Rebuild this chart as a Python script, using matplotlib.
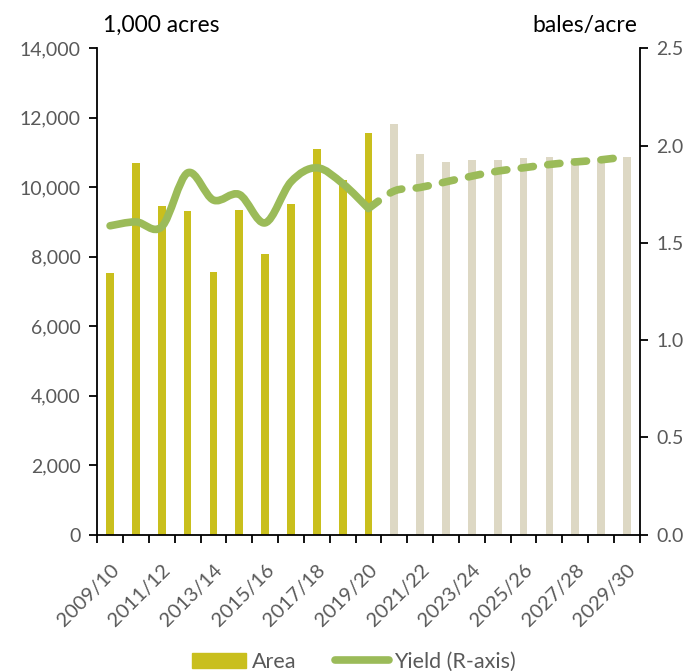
import numpy as np
import matplotlib
matplotlib.use("Agg")
import matplotlib.pyplot as plt
from matplotlib.path import Path
from matplotlib.patches import PathPatch, Patch
from matplotlib.lines import Line2D

plt.rcParams['font.family'] = ['Lato', 'DejaVu Sans']

seasons = ["2009/10", "2010/11", "2011/12", "2012/13", "2013/14", "2014/15", "2015/16",
           "2016/17", "2017/18", "2018/19", "2019/20", "2020/21", "2021/22", "2022/23",
           "2023/24", "2024/25", "2025/26", "2026/27", "2027/28", "2028/29", "2029/30"]
area = [7540, 10700, 9460, 9330, 7550, 9360, 8070, 9510, 11100, 10200, 11570,
        11810, 10950, 10720, 10780, 10800, 10830, 10860, 10850, 10850, 10860]
n_hist = 11
yield_hist = [1.588, 1.608, 1.583, 1.860, 1.720, 1.749, 1.603, 1.814, 1.886, 1.805, 1.677]
yield_proj = [1.677, 1.767, 1.785, 1.814, 1.843, 1.869, 1.886, 1.903, 1.916, 1.927, 1.943]

c_hist = "#C9BF1D"
c_proj = "#DDD8C4"
c_line = "#9BBB59"
grey = "#595959"


def smooth_path(xs, ys):
    # Excel-style smoothed line as cubic bezier segments
    xs = np.asarray(xs, float)
    ys = np.asarray(ys, float)
    pts = np.column_stack([xs, ys])
    verts = [pts[0]]
    codes = [Path.MOVETO]
    m = len(pts)
    for i in range(m - 1):
        p0 = pts[i - 1] if i > 0 else pts[i]
        p1 = pts[i]
        p2 = pts[i + 1]
        p3 = pts[i + 2] if i + 2 < m else pts[i + 1]
        c1 = p1 + (p2 - p0) / 6
        c2 = p2 - (p3 - p1) / 6
        verts += [c1, c2, p2]
        codes += [Path.CURVE4] * 3
    return Path(verts, codes)


fig = plt.figure(figsize=(6.94, 6.71), dpi=100)
ax = fig.add_axes([0.140, 0.203, 0.782, 0.725])
ax2 = ax.twinx()

x = np.arange(len(seasons))
colors = [c_hist if i < n_hist else c_proj for i in range(len(seasons))]
ax.bar(x, area, width=0.3, color=colors, zorder=2)

xh = x[:n_hist]
xp = x[n_hist - 1:]
ax2.add_patch(PathPatch(smooth_path(xh, yield_hist), fill=False, edgecolor=c_line,
                        lw=5.5, capstyle='round', joinstyle='round'))
ax2.add_patch(PathPatch(smooth_path(xp, yield_proj), fill=False, edgecolor=c_line,
                        lw=5.5, capstyle='round', joinstyle='round',
                        linestyle=(0, (1.6, 1.9))))

ax.set_xlim(-0.5, len(seasons) - 0.5)
ax.set_ylim(0, 14000)
ax2.set_ylim(0, 2.5)
ax.set_yticks(np.arange(0, 14001, 2000))
ax.set_yticklabels([f"{v:,}" for v in range(0, 14001, 2000)])
ax2.set_yticks(np.arange(0, 2.51, 0.5))
ax2.set_yticklabels([f"{v:.1f}" for v in np.arange(0, 2.51, 0.5)])

ax.set_xticks(x[::2])
ax.set_xticklabels(seasons[::2], rotation=45, ha='right', rotation_mode='anchor')
ax.set_xticks(np.arange(-0.5, len(seasons), 1), minor=True)
ax.tick_params(axis='x', which='major', length=0, pad=19, labelsize=14.5, labelcolor=grey)
ax.tick_params(axis='x', which='minor', length=6, width=1.3, direction='out', color='black')
ax.tick_params(axis='y', length=6, width=1.3, labelsize=14, labelcolor=grey, pad=6)
ax2.tick_params(axis='y', length=6, width=1.3, labelsize=14, labelcolor=grey, pad=6)

for a in (ax, ax2):
    a.spines['top'].set_visible(False)
    for s in ('left', 'right', 'bottom'):
        a.spines[s].set_linewidth(1.3)
ax.spines['right'].set_visible(False)
ax2.spines['left'].set_visible(False)
ax2.spines['bottom'].set_visible(False)

fig.text(0.148, 0.947, "1,000 acres", fontsize=16.5, color='black', va='bottom')
fig.text(0.918, 0.947, "bales/acre", fontsize=16.5, color='black', va='bottom', ha='right')

handles = [Patch(color=c_hist, label="Area"),
           Line2D([], [], color=c_line, lw=5.5, solid_capstyle='round', label="Yield (R-axis)")]
fig.legend(handles=handles, loc='lower center', bbox_to_anchor=(0.51, -0.03), ncol=2,
           frameon=False, fontsize=15.5, labelcolor=grey, handlelength=2.5,
           handletextpad=0.25, columnspacing=1.8)

fig.savefig("out.png", dpi=100)
